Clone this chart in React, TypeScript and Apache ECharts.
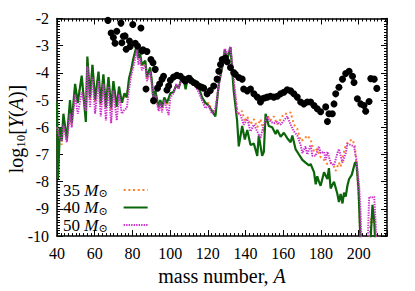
import React, { useEffect, useRef } from 'react';
import * as echarts from 'echarts';

const legendNames = ['35', '40', '50'];

const series35: [number, number][] = [
  [40, -6.0], [40.7, -6.6], [41.6, -6.3], [42.5, -6.65], [43.4, -5.7], [45.2, -6.5], [46.9, -5.2], [47.8, -5.9],
  [49.6, -4.6], [50.5, -5.1], [53.1, -4.2], [55.3, -5.6], [56.1, -3.5], [57.5, -5.0], [58.8, -3.7], [60.2, -5.1],
  [62.0, -4.0], [63.2, -5.2], [64.6, -4.1], [65.9, -5.3], [67.3, -4.2], [68.7, -5.35], [69.9, -4.35], [71.7, -5.3],
  [72.9, -4.55], [74.4, -5.15], [75.8, -4.8], [77.0, -4.85], [78.2, -4.3], [79.3, -3.95], [80.4, -3.55], [81.5, -3.3],
  [82.4, -3.05], [83.2, -3.5], [84.1, -3.35], [85.0, -3.75], [86.8, -3.6], [87.7, -4.25], [89.4, -3.85], [90.3, -4.35],
  [91.2, -5.0], [92.1, -4.7], [93.9, -5.3], [94.8, -5.05], [95.7, -5.3], [96.9, -4.95], [98.3, -5.2], [100.1, -4.8],
  [101.8, -4.7], [103.3, -4.45], [104.5, -4.55], [106.3, -4.2], [107.5, -4.3], [109.0, -4.25], [110.7, -4.15],
  [112.5, -4.35], [115.1, -4.55], [116.9, -4.95], [118.7, -5.15], [120.4, -5.1], [122.2, -5.4], [124.0, -5.45],
  [125.8, -4.4], [127.6, -3.75], [129.0, -3.2], [130.2, -3.4], [132.0, -3.1], [133.7, -4.4], [135.5, -5.3],
  [136.4, -5.5], [138.2, -5.4], [139.6, -5.8], [140.9, -5.6], [142.6, -5.9], [144.4, -5.7], [146.2, -6.0],
  [147.9, -5.7], [149.7, -6.2], [151.5, -5.55], [153.2, -5.75], [155.0, -5.6], [156.8, -5.9], [158.6, -5.7],
  [160.3, -5.5], [162.1, -5.5], [163.9, -5.45], [165.6, -5.9], [167.4, -6.05], [169.2, -6.5], [170.9, -6.45],
  [172.7, -6.3], [174.5, -6.45], [176.3, -6.9], [178.0, -6.8], [179.8, -7.1], [181.6, -7.2], [183.4, -7.35],
  [185.1, -7.3], [186.9, -7.45], [187.8, -7.6], [189.5, -7.3], [190.4, -7.45], [192.2, -6.9], [193.1, -6.65],
  [194.9, -6.5], [196.7, -6.45], [198.0, -6.7], [198.8, -7.4], [200.0, -8.6], [200.8, -10], [201.5, -11],
  [205.0, -11], [206.4, -9.35], [207.5, -9.5], [208.2, -9.3], [209.0, -10], [209.5, -11]
];

const series40: [number, number][] = [
  [40, -5.1], [40.5, -7.9], [41.6, -6.0], [42.5, -6.5], [43.4, -5.5], [45.2, -6.45], [46.9, -5.0], [47.8, -5.85],
  [49.6, -4.4], [51.0, -5.1], [53.1, -4.1], [55.3, -5.8], [56.1, -3.4], [57.5, -4.9], [58.8, -3.7], [60.2, -5.0],
  [62.0, -3.95], [63.2, -5.1], [64.6, -4.05], [65.9, -5.25], [67.3, -4.15], [68.7, -5.3], [69.9, -4.3], [71.7, -5.25],
  [72.9, -4.5], [74.4, -5.1], [75.8, -4.75], [77.0, -4.9], [78.2, -4.2], [79.3, -3.9], [80.4, -3.5], [81.5, -3.2],
  [82.4, -2.95], [83.2, -3.45], [84.1, -3.3], [85.0, -3.7], [86.8, -3.55], [87.7, -4.15], [89.4, -3.8], [90.3, -4.3],
  [91.2, -5.0], [92.1, -4.65], [93.9, -5.25], [94.8, -5.0], [95.7, -5.25], [96.9, -4.9], [98.3, -5.1], [100.1, -4.75],
  [101.8, -4.7], [103.3, -4.45], [104.5, -4.55], [106.3, -4.15], [107.5, -4.35], [108.2, -4.6], [109.0, -4.3],
  [110.7, -4.1], [112.5, -4.3], [115.1, -4.5], [116.9, -4.9], [118.7, -5.1], [120.4, -5.2], [122.2, -5.4],
  [124.0, -5.6], [125.8, -4.4], [127.6, -3.8], [129.0, -3.15], [130.2, -3.55], [132.0, -3.05], [133.7, -4.65],
  [135.5, -5.75], [136.4, -6.7], [138.2, -5.95], [139.6, -6.45], [140.9, -6.1], [142.6, -6.65], [144.4, -6.6],
  [146.2, -7.05], [147.0, -6.3], [148.8, -7.05], [149.7, -6.9], [150.6, -5.5], [152.3, -5.95], [154.1, -6.0],
  [155.9, -6.25], [156.8, -6.1], [158.6, -6.35], [160.3, -6.2], [162.1, -6.4], [163.9, -6.55], [164.8, -6.3],
  [166.5, -6.8], [168.3, -7.0], [170.1, -7.2], [171.8, -7.3], [173.6, -7.4], [174.5, -7.35], [176.3, -7.65],
  [177.2, -8.1], [178.0, -7.8], [178.9, -8.0], [179.8, -8.15], [181.6, -7.65], [183.4, -7.9], [184.2, -7.5],
  [185.1, -8.25], [186.9, -8.0], [188.7, -8.45], [189.5, -8.75], [190.4, -8.45], [191.4, -8.8], [192.2, -8.4],
  [193.1, -8.55], [194.0, -8.15], [194.9, -7.9], [196.3, -7.75], [198.0, -7.3], [198.8, -7.3], [199.9, -8.25],
  [200.6, -9.6], [201.5, -11], [205.6, -11], [207.3, -8.85], [208.2, -9.4], [209.3, -11]
];

const series50: [number, number][] = [
  [40, -6.0], [40.7, -6.2], [41.6, -6.4], [42.5, -6.5], [43.4, -5.9], [45.2, -6.55], [46.9, -5.5], [47.8, -6.0],
  [49.6, -4.8], [51.0, -5.5], [53.1, -4.7], [55.3, -5.4], [56.1, -3.75], [57.5, -5.25], [58.8, -4.15], [60.2, -5.5],
  [62.0, -4.3], [63.2, -5.6], [64.6, -4.4], [65.9, -5.75], [67.3, -4.5], [68.7, -5.85], [69.9, -4.65], [71.7, -5.75],
  [72.9, -4.8], [74.4, -5.5], [75.8, -5.35], [77.0, -5.3], [78.2, -4.6], [79.3, -4.1], [80.4, -3.8], [81.5, -3.45],
  [82.4, -3.15], [83.2, -3.7], [84.1, -3.45], [85.0, -3.9], [86.8, -3.7], [87.7, -4.3], [89.4, -3.95], [90.3, -4.45],
  [91.2, -5.1], [92.1, -4.8], [93.9, -5.4], [94.8, -5.1], [95.7, -5.45], [96.9, -5.0], [98.3, -5.35], [99.2, -5.55],
  [100.1, -4.9], [101.8, -4.75], [103.3, -4.4], [104.5, -4.6], [106.3, -4.1], [107.5, -4.4], [109.0, -4.25],
  [110.7, -4.2], [112.5, -4.4], [115.1, -4.7], [116.9, -5.0], [118.7, -5.3], [120.4, -5.2], [122.2, -5.5],
  [124.0, -5.3], [125.8, -4.5], [127.6, -3.7], [129.0, -3.1], [130.2, -3.3], [132.0, -3.05], [133.7, -4.2],
  [135.5, -5.45], [137.3, -5.55], [139.0, -5.9], [140.9, -5.7], [142.6, -6.15], [144.4, -5.9], [146.2, -6.15],
  [147.9, -6.4], [149.7, -5.9], [151.5, -5.6], [153.2, -5.8], [155.0, -5.85], [156.8, -5.8], [158.6, -5.9],
  [160.3, -5.75], [162.1, -5.6], [163.9, -5.9], [165.6, -6.15], [167.4, -6.3], [169.2, -6.65], [170.1, -6.95],
  [171.8, -6.7], [172.7, -7.0], [174.5, -6.65], [175.4, -7.05], [177.2, -7.05], [178.9, -6.7], [179.8, -6.95],
  [181.6, -6.9], [182.5, -7.2], [183.4, -6.9], [185.1, -7.3], [186.9, -7.4], [188.7, -6.95], [189.5, -6.8],
  [191.4, -7.3], [193.1, -6.95], [194.0, -6.6], [195.8, -6.65], [197.5, -6.7], [198.8, -7.2], [200.2, -8.15],
  [201.0, -9.1], [201.7, -11], [204.5, -11], [205.5, -8.55], [206.4, -8.6], [208.2, -8.55], [209.0, -9.55], [209.6, -11]
];

const solar: [number, number][] = [
  [67.0, -2.07], [68.7, -2.53], [69.9, -2.70], [70.8, -2.91], [71.7, -2.47], [73.9, -2.17], [74.4, -2.89],
  [75.2, -2.65], [76.1, -2.64], [76.7, -3.13], [78.4, -2.83], [78.8, -3.03], [80.2, -2.22], [81.5, -2.91],
  [82.7, -3.01], [84.5, -2.35], [85.0, -3.19], [85.6, -3.15], [87.2, -4.59], [87.7, -3.21], [89.8, -3.51],
  [90.9, -3.63], [91.2, -5.02], [92.1, -3.87], [93.3, -4.56], [94.4, -4.41], [95.7, -4.23], [96.5, -4.12],
  [98.3, -4.63], [99.2, -4.48], [100.1, -4.27], [101.8, -4.15], [103.6, -4.09], [105.4, -4.12], [107.1, -4.23],
  [108.0, -4.30], [109.8, -4.20], [111.0, -4.28], [112.5, -4.35], [113.8, -4.40], [115.1, -4.48], [116.5, -4.52],
  [117.8, -4.56], [119.6, -4.77], [121.3, -4.65], [123.1, -4.48], [124.9, -4.23], [125.8, -3.94], [126.7, -3.69],
  [127.6, -3.51], [129.3, -3.45], [130.2, -3.59], [132.0, -3.80], [133.7, -3.99], [134.6, -4.05], [136.4, -4.17],
  [138.2, -4.23], [139.0, -4.59], [140.9, -4.66], [142.6, -4.59], [144.4, -4.77], [146.2, -4.89], [147.9, -5.07],
  [148.8, -4.95], [150.0, -4.92], [151.5, -4.89], [153.2, -4.86], [155.0, -4.89], [156.8, -4.86], [158.6, -4.77],
  [160.3, -4.71], [162.1, -4.62], [163.9, -4.66], [165.6, -4.77], [167.4, -4.89], [169.2, -5.07], [170.9, -5.14],
  [172.7, -5.07], [174.5, -5.07], [176.3, -5.20], [178.0, -5.32], [179.8, -5.43], [182.5, -5.25], [183.4, -5.79],
  [184.2, -5.50], [186.0, -5.50], [186.9, -5.14], [187.8, -4.77], [189.5, -4.53], [191.4, -4.23], [193.1, -4.02],
  [194.9, -3.94], [196.7, -4.12], [197.5, -4.35], [199.3, -4.95], [201.1, -5.14], [202.8, -5.20], [203.7, -5.41],
  [205.5, -5.05], [206.4, -4.21], [208.2, -4.23], [209.6, -4.57]
];

const FONT = "'Liberation Serif', 'DejaVu Serif', serif";

export default function App() {
  const ref = useRef<HTMLDivElement>(null);
  useEffect(() => {
    const chart = echarts.init(ref.current!, null, { renderer: 'svg' });
    const xBase = (pos: 'bottom' | 'top', labels: boolean) => ({
      type: 'value',
      position: pos,
      min: 40,
      max: 215,
      interval: 20,
      axisLine: { show: true, onZero: false, lineStyle: { color: '#000', width: 1.5 } },
      axisTick: { show: true, inside: true, length: 6, lineStyle: { color: '#000', width: 1 } },
      minorTick: { show: true, splitNumber: 10, length: 3, lineStyle: { color: '#000', width: 1 } },
      splitLine: { show: false },
      axisLabel: {
        show: labels, margin: 9, fontSize: 16, color: '#000', fontFamily: FONT, showMaxLabel: false
      }
    });
    const yBase = (pos: 'left' | 'right', labels: boolean) => ({
      type: 'value',
      position: pos,
      min: -10,
      max: -2,
      interval: 1,
      axisLine: { show: true, onZero: false, lineStyle: { color: '#000', width: 1.5 } },
      axisTick: { show: true, inside: true, length: 6, lineStyle: { color: '#000', width: 1 } },
      minorTick: { show: true, splitNumber: 10, length: 3, lineStyle: { color: '#000', width: 1 } },
      splitLine: { show: false },
      axisLabel: { show: labels, margin: 8, fontSize: 16, color: '#000', fontFamily: FONT }
    });
    const bottomX: any = xBase('bottom', true);
    bottomX.name = 'mass number, {i|A}';
    bottomX.nameLocation = 'middle';
    bottomX.nameGap = 27;
    bottomX.nameTextStyle = {
      fontSize: 20, fontFamily: FONT, color: '#000',
      rich: { i: { fontSize: 20, fontFamily: FONT, fontStyle: 'italic', color: '#000' } }
    };
    const legendRich = {
      r: { fontSize: 17, fontFamily: FONT, color: '#000', lineHeight: 17 },
      i: { fontSize: 17, fontFamily: FONT, fontStyle: 'italic', color: '#000', lineHeight: 17 },
      s: { fontSize: 11, fontFamily: "'DejaVu Serif', serif", color: '#000', lineHeight: 17, padding: [7, 0, 0, 0] },
      g: { width: 11 }
    };
    chart.setOption({
      animation: false,
      grid: { left: 57, top: 18.5, width: 330, height: 221.5, show: false },
      xAxis: [bottomX, xBase('top', false)],
      yAxis: [yBase('left', true), yBase('right', false)],
      legend: {
        show: true,
        orient: 'vertical',
        left: 58,
        top: 176,
        align: 'right',
        itemWidth: 24,
        itemHeight: 10,
        itemGap: -0.5,
        data: legendNames,
        itemStyle: { opacity: 0 },
        formatter: (n: string) => `{r|${n}} {i|M}{s|⊙}{g|}`,
        textStyle: { fontSize: 17, fontFamily: FONT, color: '#000', lineHeight: 17, rich: legendRich }
      },
      graphic: [
        {
          type: 'text',
          x: 16,
          y: 129,
          rotation: Math.PI / 2,
          style: {
            text: 'log{s|10}[{i|Y}({i|A})]',
            fontSize: 20,
            fontFamily: FONT,
            fill: '#000',
            align: 'center',
            verticalAlign: 'middle',
            rich: {
              s: { fontSize: 13, fontFamily: FONT, padding: [9, 0, 0, 0] },
              i: { fontSize: 20, fontFamily: FONT, fontStyle: 'italic' }
            }
          }
        }
      ],
      series: [
        {
          name: '35', type: 'line', data: series35, symbol: 'none', z: 2,
          lineStyle: { color: '#ff7f2a', width: 2, type: [2, 2.7], cap: 'butt' },
          itemStyle: { color: '#ff7f2a' }
        },
        {
          name: '40', type: 'line', data: series40, symbol: 'none', z: 3,
          lineStyle: { color: '#0b650b', width: 2.2 },
          itemStyle: { color: '#0b650b' }
        },
        {
          name: '50', type: 'line', data: series50, symbol: 'none', z: 4,
          lineStyle: { color: '#cc33cc', width: 2, type: [1.4, 1.1], cap: 'butt' },
          itemStyle: { color: '#cc33cc' }
        },
        {
          name: 'solar', type: 'scatter', data: solar, symbol: 'circle', symbolSize: 7, z: 5,
          itemStyle: { color: '#000', opacity: 1 }
        }
      ]
    });
    return () => chart.dispose();
  }, []);
  return <div ref={ref} style={{ position: 'absolute', left: 0, top: 0, width: 415, height: 291 }} />;
}
